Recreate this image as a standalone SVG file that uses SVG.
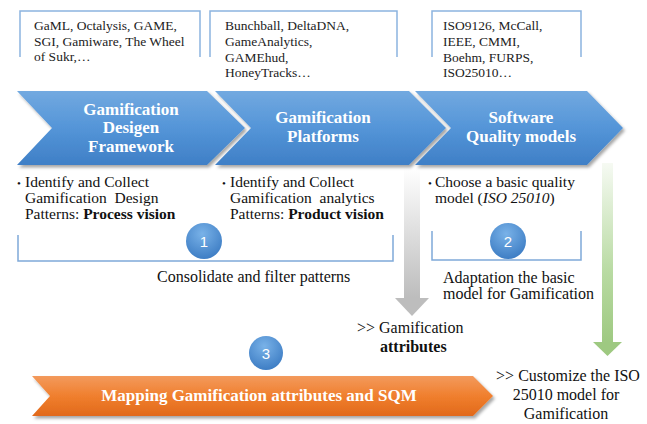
<svg xmlns="http://www.w3.org/2000/svg" width="647" height="424" viewBox="0 0 647 424">
<defs>
<linearGradient id="gBlue" x1="0" y1="0" x2="0" y2="1">
<stop offset="0" stop-color="#72a9e0"/><stop offset="0.5" stop-color="#5495d8"/><stop offset="1" stop-color="#3f7fc6"/>
</linearGradient>
<linearGradient id="gOrange" x1="0" y1="0" x2="0" y2="1">
<stop offset="0" stop-color="#f39a5c"/><stop offset="0.5" stop-color="#f07f2e"/><stop offset="1" stop-color="#e1691a"/>
</linearGradient>
<radialGradient id="gBall" cx="0.45" cy="0.3" r="0.75">
<stop offset="0" stop-color="#79b2e8"/><stop offset="1" stop-color="#3a7ac2"/>
</radialGradient>
<linearGradient id="gGray" x1="0" y1="0" x2="0" y2="1">
<stop offset="0" stop-color="#ffffff"/><stop offset="1" stop-color="#bcbcbc"/>
</linearGradient>
<linearGradient id="gGreen" x1="0" y1="0" x2="0" y2="1">
<stop offset="0" stop-color="#f6faf3"/><stop offset="0.6" stop-color="#b9dba3"/><stop offset="1" stop-color="#9ec981"/>
</linearGradient>
<filter id="sh" x="-10%" y="-10%" width="125%" height="130%">
<feDropShadow dx="2" dy="2.5" stdDeviation="1.5" flood-color="#000" flood-opacity="0.35"/>
</filter>
</defs>
<style>
.src{font-family:"Liberation Serif","Times New Roman",serif;font-size:13.5px;fill:#222}
.box{fill:none;stroke:#8cb4e0;stroke-width:1.5}
.brk{fill:none;stroke:#7fa9d9;stroke-width:1.5}
.ct{font-family:"Liberation Serif","Times New Roman",serif;font-size:17px;font-weight:bold;fill:#fff;text-anchor:middle}
.bt{font-family:"Liberation Serif","Times New Roman",serif;font-size:15.5px;fill:#111;white-space:pre}
.lb{font-family:"Liberation Serif","Times New Roman",serif;font-size:16px;fill:#111}
.num{font-family:"Liberation Sans",Arial,sans-serif;font-size:15px;fill:#fff;text-anchor:middle}
.b{font-weight:bold}
</style>
<rect width="647" height="424" fill="#fff"/>

<g id="sources">
<path class="box" d="M20,57 V11 H200 V57"/>
<text class="src" x="34" y="30">GaML, Octalysis, GAME,</text>
<text class="src" x="34" y="46">SGI, Gamiware, The Wheel</text>
<text class="src" x="34" y="61">of Sukr,…</text>
<path class="box" d="M210,57 V11 H397 V57"/>
<text class="src" x="225" y="30">Bunchball, DeltaDNA,</text>
<text class="src" x="225" y="46">GameAnalytics,</text>
<text class="src" x="225" y="62">GAMEhud,</text>
<text class="src" x="225" y="77">HoneyTracks…</text>
<path class="box" d="M432,57 V11 H581 V57"/>
<text class="src" x="443" y="30">ISO9126, McCall,</text>
<text class="src" x="443" y="46">IEEE, CMMI,</text>
<text class="src" x="443" y="62">Boehm, FURPS,</text>
<text class="src" x="443" y="77">ISO25010…</text>
</g>

<g id="connectors">
<rect x="404" y="168" width="16" height="131" fill="url(#gGray)"/>
<polygon points="395,298 429,298 412,316" fill="#bdbdbd"/>
<rect x="602" y="163" width="11" height="180" fill="url(#gGreen)"/>
<polygon points="593,342 622,342 607.5,356" fill="#9ec981"/>
<path class="brk" d="M18,235 V261 H393 V235"/>
<path class="brk" d="M432,231 V260 H581 V231"/>
</g>

<g id="chevron1">
<polygon points="17,91 207,91 245,128 207,165 17,165 52,128" fill="url(#gBlue)" filter="url(#sh)"/>
<text class="ct" x="131" y="115">Gamification</text>
<text class="ct" x="131" y="133">Desigen</text>
<text class="ct" x="131" y="152">Framework</text>
</g>
<g id="chevron2">
<polygon points="215,91 409,91 446,128 409,165 215,165 251,128" fill="url(#gBlue)" filter="url(#sh)"/>
<text class="ct" x="323" y="123">Gamification</text>
<text class="ct" x="323" y="142">Platforms</text>
</g>
<g id="chevron3">
<polygon points="415,91 587,91 623,128 587,165 415,165 451,128" fill="url(#gBlue)" filter="url(#sh)"/>
<text class="ct" x="521" y="123">Software</text>
<text class="ct" x="521" y="142">Quality models</text>
</g>

<g id="bullets1">
<text class="bt" x="17" y="187"><tspan font-size="11">•</tspan></text>
<text class="bt" x="25" y="187">Identify and Collect</text>
<text class="bt" x="25" y="203">Gamification  Design</text>
<text class="bt" x="25" y="219">Patterns: <tspan class="b">Process vision</tspan></text>
</g>
<g id="bullets2">
<text class="bt" x="222" y="187"><tspan font-size="11">•</tspan></text>
<text class="bt" x="230" y="187">Identify and Collect</text>
<text class="bt" x="230" y="203">Gamification  analytics</text>
<text class="bt" x="230" y="219">Patterns: <tspan class="b">Product vision</tspan></text>
</g>
<g id="bullets3">
<text class="bt" x="428" y="187"><tspan font-size="11">•</tspan></text>
<text class="bt" x="435" y="187">Choose a basic quality</text>
<text class="bt" x="435" y="203">model (<tspan font-style="italic">ISO 25010</tspan>)</text>
</g>

<g id="step1">
<circle cx="204" cy="241" r="18" fill="url(#gBall)"/>
<text class="num" x="204" y="246.5">1</text>
</g>
<g id="step2">
<circle cx="508" cy="241" r="18" fill="url(#gBall)"/>
<text class="num" x="508" y="246.5">2</text>
</g>

<g id="label-consolidate">
<text class="lb" x="157" y="282">Consolidate and filter patterns</text>
</g>
<g id="label-adaptation">
<text class="lb" x="443" y="283">Adaptation the basic</text>
<text class="lb" x="443" y="299">model for Gamification</text>
</g>
<g id="label-attributes">
<text class="lb" x="357" y="333">&gt;&gt; Gamification</text>
<text class="lb b" x="380" y="352">attributes</text>
</g>

<g id="step3">
<circle cx="266" cy="353" r="17" fill="url(#gBall)"/>
<text class="num" x="266" y="358.5">3</text>
</g>

<g id="mapping">
<polygon points="32,376 473,376 493,396 473,416 32,416 50,396" fill="url(#gOrange)" filter="url(#sh)"/>
<text class="ct" x="259" y="401" font-size="18">Mapping Gamification attributes and SQM</text>
</g>

<g id="label-customize">
<text class="lb" x="568" y="381" text-anchor="middle">&gt;&gt; Customize the ISO</text>
<text class="lb" x="566" y="400" text-anchor="middle">25010 model for</text>
<text class="lb" x="566" y="419" text-anchor="middle">Gamification</text>
</g>
</svg>
